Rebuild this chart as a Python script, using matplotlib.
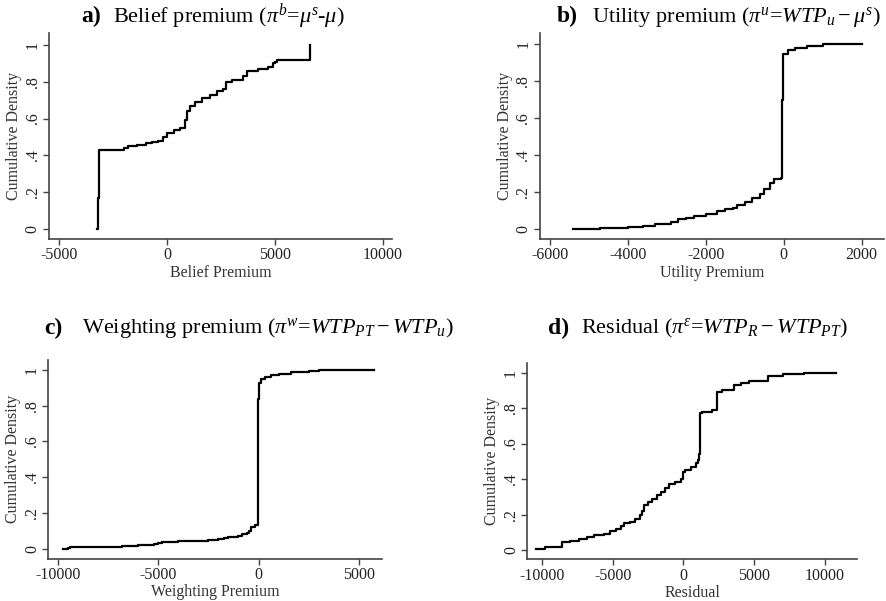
import numpy as np
import matplotlib
matplotlib.use("Agg")
import matplotlib.pyplot as plt

plt.rcParams['font.family'] = 'Liberation Serif'
plt.rcParams['mathtext.fontset'] = 'custom'
plt.rcParams['mathtext.rm'] = 'Liberation Serif'
plt.rcParams['mathtext.it'] = 'Liberation Serif:italic'
plt.rcParams['mathtext.bf'] = 'Liberation Serif:bold'

belief_x = [-3230, -3200, -3150, -2000, -1800, -1400, -1000, -700, -400, -200, 0, 300, 600, 850,
            900, 1050, 1300, 1600, 2000, 2300, 2600, 2750, 3000, 3500, 3700, 4200, 4700, 4900,
            5000, 5100, 6650, 6650]
belief_y = [0.0, 0.17, 0.43, 0.44, 0.45, 0.455, 0.465, 0.475, 0.48, 0.50, 0.52, 0.54, 0.55, 0.59,
            0.64, 0.67, 0.69, 0.71, 0.73, 0.75, 0.76, 0.80, 0.81, 0.83, 0.86, 0.87, 0.88, 0.90,
            0.91, 0.92, 0.92, 1.0]

utility_x = [-5400, -4700, -4000, -3600, -3300, -2900, -2700, -2500, -2300, -2000, -1700, -1500,
             -1300, -1200, -1000, -800, -600, -500, -350, -250, -80, -40, -20, 100, 300, 600,
             1000, 2000]
utility_y = [0.0, 0.01, 0.015, 0.02, 0.03, 0.04, 0.055, 0.06, 0.075, 0.085, 0.10, 0.11,
             0.115, 0.13, 0.15, 0.17, 0.19, 0.22, 0.25, 0.27, 0.28, 0.70, 0.95, 0.97, 0.98, 0.99,
             1.0, 1.0]

weight_x = [-9750, -9500, -9400, -7000, -6800, -6000, -5200, -5000, -4800, -4000, -2500, -2000,
            -1700, -1500, -1000, -800, -600, -500, -400, -200, -50, -20, 0, 100, 300, 600,
            1000, 1600, 2500, 3000, 5750]
weight_y = [0.0, 0.005, 0.01, 0.01, 0.015, 0.02, 0.025, 0.03, 0.04, 0.045, 0.05, 0.055,
            0.06, 0.065, 0.07, 0.08, 0.09, 0.10, 0.12, 0.13, 0.15, 0.84, 0.93, 0.95, 0.96, 0.97,
            0.98, 0.99, 0.995, 1.0, 1.0]

resid_x = [-10400, -9800, -8600, -8000, -7400, -6800, -6300, -5600, -5200, -4800, -4400, -4200,
           -3800, -3400, -3100, -2900, -2800, -2500, -2200, -1900, -1600, -1300, -1000, -600,
           -200, 0, 100, 500, 900, 1050, 1100, 1150, 1300, 2000, 2350, 2700, 3600, 4100, 4600,
           6000, 7000, 8000, 8500, 10800]
resid_y = [0.005, 0.02, 0.045, 0.05, 0.065, 0.075, 0.085, 0.09, 0.105, 0.12, 0.135, 0.15,
           0.16, 0.175, 0.195, 0.22, 0.255, 0.27, 0.29, 0.31, 0.33, 0.35, 0.37, 0.385,
           0.40, 0.44, 0.45, 0.47, 0.49, 0.51, 0.54, 0.77, 0.78, 0.79, 0.89, 0.90, 0.93, 0.94,
           0.955, 0.98, 0.99, 0.995, 1.0, 1.0]

y_ticks = [0, 0.2, 0.4, 0.6, 0.8, 1.0]
y_ticklabels = ["0", ".2", ".4", ".6", ".8", "1"]

panels = [
    dict(x=belief_x, y=belief_y, rect=[0.0553, 0.6023, 0.3871, 0.3428],
         xlim=(-5478, 10430), ylim=(-0.054, 1.065), xticks=[-5000, 0, 5000, 10000],
         xlabel="Belief Premium", tag="a)", tagpos=(0.0915, 0.972), titlex=0.127,
         title=r"Belief premium ($\pi^{b}$=$\mu^{s}$-$\mu$)"),
    dict(x=utility_x, y=utility_y, rect=[0.6091, 0.6023, 0.3886, 0.3428],
         xlim=(-6256, 2573), ylim=(-0.052, 1.061), xticks=[-6000, -4000, -2000, 0, 2000],
         xlabel="Utility Premium", tag="b)", tagpos=(0.628, 0.972), titlex=0.668,
         title=r"Utility premium ($\pi^{u}$=$WTP_{u}-\mu^{s}$)"),
    dict(x=weight_x, y=weight_y, rect=[0.0545, 0.0704, 0.3770, 0.3306],
         xlim=(-10468, 6160), ylim=(-0.056, 1.056), xticks=[-10000, -5000, 0, 5000],
         xlabel="Weighting Premium", tag="c)", tagpos=(0.050, 0.454), titlex=0.092,
         title=r"Weighting premium ($\pi^{w}$=$WTP_{PT}-WTP_{u}$)"),
    dict(x=resid_x, y=resid_y, rect=[0.5951, 0.0694, 0.3725, 0.3271],
         xlim=(-11039, 12283), ylim=(-0.052, 1.056), xticks=[-10000, -5000, 0, 5000, 10000],
         xlabel="Residual", tag="d)", tagpos=(0.619, 0.454), titlex=0.656,
         title=r"Residual ($\pi^{\varepsilon}$=$WTP_{R}-WTP_{PT}$)"),
]

fig = plt.figure(figsize=(8.86, 6.01), dpi=100)
spine_col = "#444444"

for p in panels:
    ax = fig.add_axes(p["rect"])
    ax.step(p["x"], p["y"], where="post", color="black", linewidth=1.6)
    ax.set_xlim(*p["xlim"])
    ax.set_ylim(*p["ylim"])
    ax.set_xticks(p["xticks"])
    ax.set_xticklabels([str(v) for v in p["xticks"]])
    ax.set_yticks(y_ticks)
    ax.set_yticklabels(y_ticklabels, rotation=90, va="center")
    for s in ["top", "right"]:
        ax.spines[s].set_visible(False)
    for s in ["left", "bottom"]:
        ax.spines[s].set_color(spine_col)
        ax.spines[s].set_linewidth(1.2)
    ax.tick_params(direction="out", length=4, width=1, colors=spine_col,
                   labelcolor="#222222", labelsize=11.5, pad=2)
    ax.set_xlabel(p["xlabel"], fontsize=11.5, color="#333333", labelpad=1)
    ax.set_ylabel("Cumulative Density", fontsize=11.5, color="#333333", labelpad=2)
    fig.text(p["tagpos"][0], p["tagpos"][1], p["tag"], fontsize=17, fontweight="bold",
             va="center", ha="left")
    fig.text(p["titlex"], p["tagpos"][1], p["title"], fontsize=16, va="center", ha="left")

fig.savefig("out.png", dpi=100, facecolor="white")
